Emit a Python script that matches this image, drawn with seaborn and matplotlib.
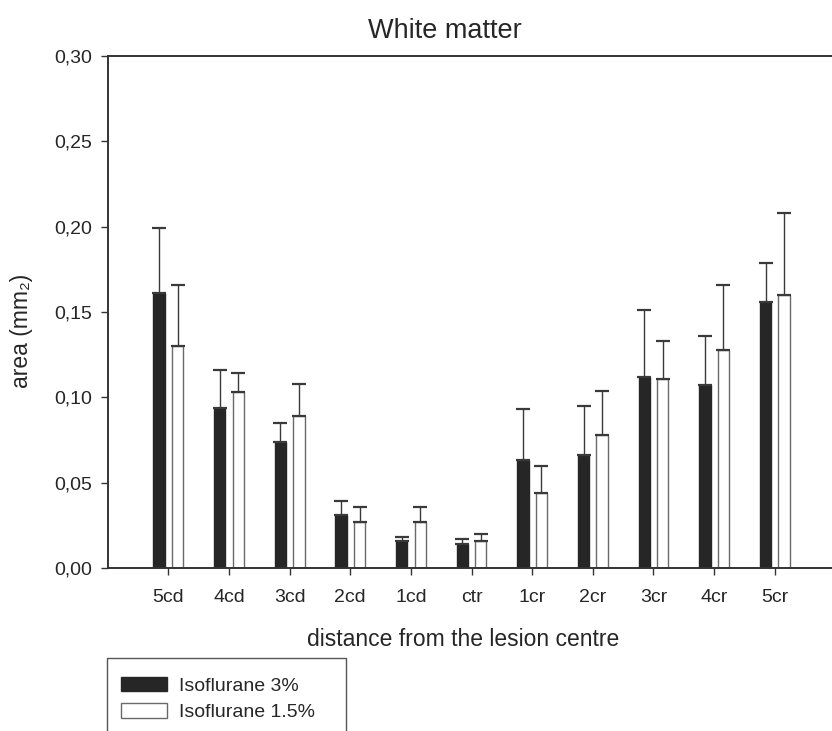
import matplotlib
matplotlib.use("Agg")
import matplotlib.pyplot as plt
from matplotlib.patches import Rectangle
import seaborn as sns
import pandas as pd

# Lesion area by distance from the lesion centre (mean with upper error)
categories = ["5cd", "4cd", "3cd", "2cd", "1cd", "ctr", "1cr", "2cr", "3cr", "4cr", "5cr"]
groups = ["Isoflurane 3%", "Isoflurane 1.5%"]
iso3_mean = [0.161, 0.094, 0.074, 0.031, 0.016, 0.014, 0.063, 0.066, 0.112, 0.107, 0.156]
iso3_err = [0.038, 0.022, 0.011, 0.008, 0.002, 0.003, 0.030, 0.029, 0.039, 0.029, 0.023]
iso15_mean = [0.130, 0.103, 0.089, 0.027, 0.027, 0.016, 0.044, 0.078, 0.111, 0.128, 0.160]
iso15_err = [0.036, 0.011, 0.019, 0.009, 0.009, 0.004, 0.016, 0.026, 0.022, 0.038, 0.048]
y_ticks = [0.00, 0.05, 0.10, 0.15, 0.20, 0.25, 0.30]
y_tick_labels = ["0,00", "0,05", "0,10", "0,15", "0,20", "0,25", "0,30"]

sns.set_theme(style="ticks")
plt.rcParams["font.family"] = ["Liberation Sans", "DejaVu Sans"]
ink = "#262626"

df = pd.DataFrame({
    "distance": categories * 2,
    "area": iso3_mean + iso15_mean,
    "group": [groups[0]] * len(categories) + [groups[1]] * len(categories),
})

fig = plt.figure(figsize=(8.32, 7.31), dpi=100)
ax = fig.add_axes([107.7 / 832, 163 / 731, 727.7 / 832, 512 / 731])

sns.barplot(data=df, x="distance", y="area", hue="group", order=categories,
            hue_order=groups, palette=["#262626", "#ffffff"], errorbar=None,
            width=0.61, gap=0.39, ax=ax, linewidth=1.0, saturation=1)

edge_colors = ["#262626", "#6a6a6a"]
for cont, errs, ec in zip(ax.containers, [iso3_err, iso15_err], edge_colors):
    xs, tops = [], []
    for patch in cont:
        patch.set_edgecolor(ec)
        xs.append(patch.get_x() + patch.get_width() / 2)
        tops.append(patch.get_height())
    ax.errorbar(xs, tops, yerr=[[0] * len(errs), errs], fmt="none",
                ecolor="#3a3a3a", elinewidth=1.0, capsize=4.7, capthick=1.6, zorder=1)

handles, labels = ax.get_legend_handles_labels()
ax.get_legend().remove()
for h, ec in zip(handles, edge_colors):
    h.set_edgecolor(ec)

ax.set_xlim(-1, 11)
ax.set_ylim(0, 0.30)
ax.set_yticks(y_ticks)
ax.set_yticklabels(y_tick_labels)
ax.tick_params(axis="both", direction="out", length=5, width=1.0, color="#333333",
               labelsize=14, labelcolor=ink, pad=6)
ax.tick_params(axis="x", pad=10)
for side in ["left", "bottom", "top"]:
    ax.spines[side].set_color("#333333")
    ax.spines[side].set_linewidth(1.4)
ax.spines["right"].set_visible(False)

ax.set_title("White matter", fontsize=19.5, color=ink, x=0.4635, pad=13)
ax.set_xlabel("distance from the lesion centre", fontsize=16.5, color=ink)
ax.xaxis.set_label_coords(0.488, -0.117)
ax.set_ylabel("area (mm\u2082)", fontsize=16.5, color=ink)
ax.yaxis.set_label_coords(-0.103, 0.463)

# Legend box runs off the lower edge of the figure
fig.patches.append(Rectangle((107.3 / 832, -0.05), (346 - 107.3) / 832, 0.05 + (731 - 658.3) / 731,
                             transform=fig.transFigure, fill=False, edgecolor="#555555",
                             linewidth=1.0))
fig.legend(handles, labels, loc="upper left",
           bbox_to_anchor=(121 / 832, (731 - 677) / 731), bbox_transform=fig.transFigure,
           frameon=False, fontsize=14, handlelength=2.37, handleheight=0.77,
           handletextpad=0.62, labelspacing=0.42, borderpad=0, borderaxespad=0,
           labelcolor=ink)

fig.savefig("out.png", dpi=100)
